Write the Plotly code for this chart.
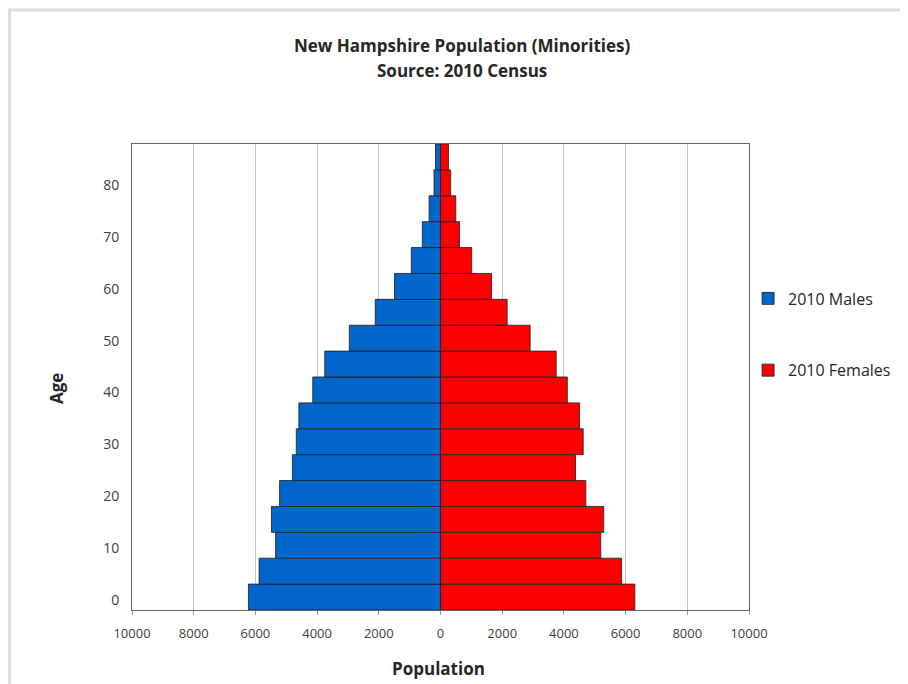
import plotly.graph_objects as go

# Age groups (start of each 5-year group)
age_groups = [0, 5, 10, 15, 20, 25, 30, 35, 40, 45, 50, 55, 60, 65, 70, 75, 80, 85]
males_2010 = [6225, 5880, 5345, 5480, 5215, 4800, 4675, 4590, 4140, 3750, 2955, 2115, 1490, 945, 590, 370, 210, 160]
females_2010 = [6300, 5870, 5195, 5290, 4710, 4375, 4625, 4505, 4110, 3750, 2905, 2160, 1655, 1010, 615, 495, 330, 258]

x_tick_vals = [-10000, -8000, -6000, -4000, -2000, 0, 2000, 4000, 6000, 8000, 10000]
x_tick_text = ["10000", "8000", "6000", "4000", "2000", "0", "2000", "4000", "6000", "8000", "10000"]
y_tick_vals = [0, 10, 20, 30, 40, 50, 60, 70, 80]

FONT = "Open Sans"

fig = go.Figure()
fig.add_trace(go.Bar(
    y=age_groups, x=[-v for v in males_2010], orientation="h", name="2010 Males",
    width=5, offset=-2,
    marker=dict(color="#0066CC", line=dict(color="rgba(35,35,35,0.85)", width=1)),
    legendgroup="m",
))
fig.add_trace(go.Bar(
    y=age_groups, x=females_2010, orientation="h", name="2010 Females",
    width=5, offset=-2,
    marker=dict(color="#FF0000", line=dict(color="rgba(35,35,35,0.85)", width=1)),
    legendgroup="f",
))

fig.update_layout(
    width=900, height=676,
    margin=dict(l=124, r=156, t=136, b=74),
    paper_bgcolor="white", plot_bgcolor="white",
    barmode="overlay",
    font=dict(family=FONT, color="#404040"),
    showlegend=True,
    legend=dict(
        x=0.9985, y=0.705, xanchor="left", yanchor="top",
        font=dict(size=16, color="#262626", family=FONT),
        tracegroupgap=48, traceorder="grouped",
        bgcolor="rgba(0,0,0,0)", itemwidth=30,
    ),
    xaxis=dict(
        range=[-10000, 10000], tickvals=x_tick_vals, ticktext=x_tick_text,
        showgrid=True, gridcolor="#c4c4c4", gridwidth=1,
        zeroline=False, showline=True, linecolor="#666666", linewidth=1, mirror=True,
        ticks="outside", ticklen=4, tickcolor="#999999",
        tickfont=dict(size=13, color="#404040"), ticklabelstandoff=7,
    ),
    yaxis=dict(
        range=[-2, 88], tickvals=y_tick_vals,
        showgrid=False, zeroline=False,
        showline=True, linecolor="#666666", linewidth=1, mirror=True,
        ticks="", tickfont=dict(size=14, color="#404040"), ticklabelstandoff=9,
    ),
    annotations=[
        dict(text="<b>New Hampshire Population (Minorities)</b>", x=0.535, y=1.2124,
             xref="paper", yref="paper", showarrow=False, xanchor="center", yanchor="middle",
             font=dict(size=17, color="#262626", family=FONT)),
        dict(text="<b>Source: 2010 Census</b>", x=0.535, y=1.1567,
             xref="paper", yref="paper", showarrow=False, xanchor="center", yanchor="middle",
             font=dict(size=17, color="#262626", family=FONT)),
        dict(text="<b>Age</b>", x=-0.1226, y=0.475, textangle=-90,
             xref="paper", yref="paper", showarrow=False, xanchor="center", yanchor="middle",
             font=dict(size=17, color="#262626", family=FONT)),
        dict(text="<b>Population</b>", x=0.4968, y=-0.1245,
             xref="paper", yref="paper", showarrow=False, xanchor="center", yanchor="middle",
             font=dict(size=17, color="#262626", family=FONT)),
    ],
    shapes=[
        dict(type="rect", xref="paper", yref="paper",
             x0=-0.1984, x1=1.32, y0=-0.25, y1=1.2875,
             line=dict(color="#dcdcdc", width=3), layer="below"),
    ],
)

fig.write_html("out.html")
